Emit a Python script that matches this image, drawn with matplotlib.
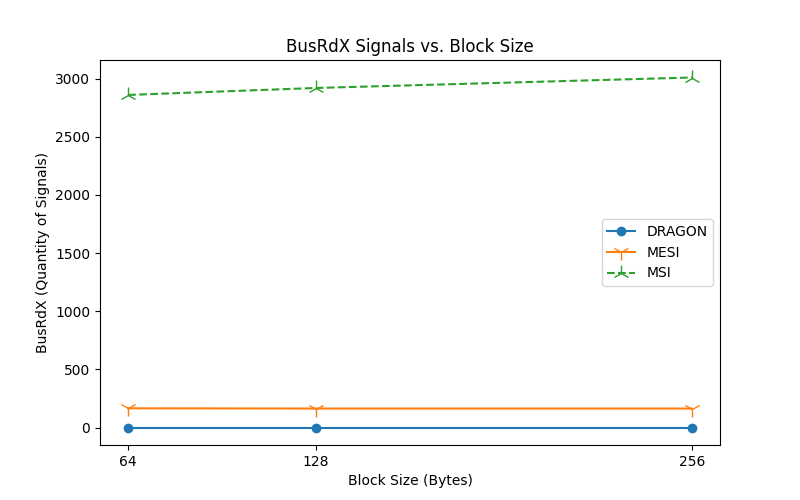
import matplotlib
matplotlib.use('Agg')
import matplotlib.pyplot as plt

block_sizes = [64, 128, 256]
dragon = [0, 0, 0]
mesi = [165, 163, 163]
msi = [2860, 2920, 3010]

fig, ax = plt.subplots(figsize=(8, 5), dpi=100)
ax.plot(block_sizes, dragon, marker='o', linestyle='-', label='DRAGON')
ax.plot(block_sizes, mesi, marker='1', markersize=12, linestyle='-', label='MESI')
ax.plot(block_sizes, msi, marker='2', markersize=12, linestyle='--', label='MSI')
ax.set_xticks(block_sizes)
ax.set_title('BusRdX Signals vs. Block Size')
ax.set_xlabel('Block Size (Bytes)')
ax.set_ylabel('BusRdX (Quantity of Signals)')
ax.legend(loc='center right')
fig.savefig('out.png')
